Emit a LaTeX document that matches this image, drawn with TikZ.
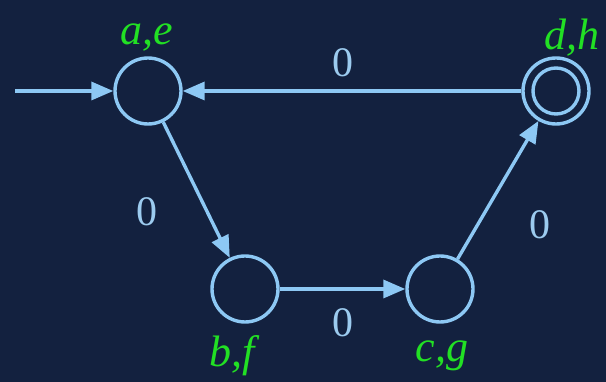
\documentclass[tikz,border=0pt]{standalone}
\usepackage{fontspec}
\setmainfont{Liberation Serif}
\usetikzlibrary{arrows.meta}
\definecolor{navy}{HTML}{13213F}
\definecolor{edgeblue}{HTML}{8DC8F4}
\definecolor{tagblue}{HTML}{9CCBEF}
\definecolor{namegreen}{HTML}{22E024}
\begin{document}
\begin{tikzpicture}[x=1pt, y=1pt,
    fsm/.style={circle, draw=edgeblue, line width=3.4pt, minimum size=66pt, inner sep=0pt},
    statename/.style={text=namegreen, font=\fontsize{44}{48}\selectfont\itshape},
    tag/.style={text=tagblue, font=\fontsize{42}{46}\selectfont},
    move/.style={draw=edgeblue, line width=3.4pt, -{Triangle[length=22pt, width=18pt]}}]

    % background and frame
    \fill[navy] (0,0) rectangle (606,382);
    \useasboundingbox (0,0) rectangle (606,382);

    % states
    \node[fsm] (ae) at (148,291) {};
    \node[fsm] (bf) at (245,93) {};
    \node[fsm] (cg) at (440,93) {};
    \node[fsm] (dh) at (556,291) {};
    \draw[draw=edgeblue, line width=3.4pt] (dh.center) circle (23pt);

    % state names
    \node[statename] (ae-name) at (147,344) {a,e};
    \node[statename] (dh-name) at (572,344) {d,h};
    \node[statename] (bf-name) at (232,26) {b,f};
    \node[statename] (cg-name) at (442,26) {c,g};

    % transitions
    \coordinate (start) at (15,291);
    \draw[move] (start) -- (ae);
    \draw[move] (ae) -- (bf);
    \draw[move] (bf) -- (cg);
    \draw[move] (cg) -- (dh);
    \draw[move] (dh) -- (ae);

    \node[tag] (t1) at (343,319) {0};
    \node[tag] (t2) at (147,170) {0};
    \node[tag] (t3) at (343,59) {0};
    \node[tag] (t4) at (540,157) {0};
\end{tikzpicture}
\end{document}
